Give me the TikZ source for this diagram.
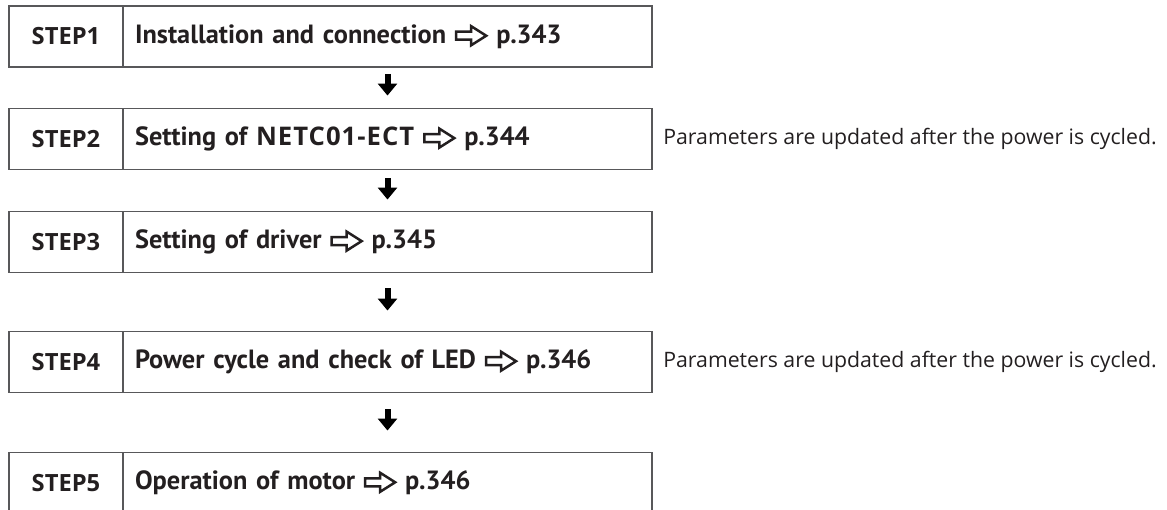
\documentclass[tikz,border=0pt]{standalone}
\usepackage{fontspec}
\setmainfont{PT Sans}
\newfontfamily\labelfont{Open Sans}
\newfontfamily\modelfont[LetterSpace=4]{Open Sans}
\usetikzlibrary{arrows.meta,positioning}
\definecolor{inkblack}{RGB}{35,31,32}
\definecolor{framegray}{RGB}{88,88,90}
\newcommand{\goto}[1]{\tikz[x=1cm, y=1cm, baseline=-0.15cm]\draw[inkblack, line width=0.05cm, line join=miter]
  (0,0.08) -- (0.30,0.08) -- (0.30,0.19) -- (0.60,0) -- (0.30,-0.19) -- (0.30,-0.08) -- (0,-0.08) -- cycle;~p.#1}

\begin{document}
\begin{tikzpicture}[x=0.02cm, y=0.02cm,
  font=\bfseries\fontsize{15}{17}\selectfont, text=inkblack,
  stepcell/.style={draw=framegray, line width=1.1pt, minimum width=2.28cm, minimum height=1.22cm, inner sep=0pt,
    font=\labelfont\bfseries\fontsize{13.5}{16}\selectfont},
  textcell/.style={draw=framegray, line width=1.1pt, minimum width=10.58cm, minimum height=1.22cm, text width=10.10cm, align=left, inner xsep=0.24cm, inner ysep=0pt},
  note/.style={font=\labelfont\mdseries\fontsize{12.1}{14}\selectfont, anchor=west, inner sep=0pt},
  flow/.style={line width=0.12cm, -{Triangle[width=0.38cm,length=0.24cm]}},
]
\clip (0,0) rectangle (1167,-510);
% steps
\node[stepcell] (s1) at (66,-36.5) {STEP1};
\node[textcell] (t1) at (387.5,-36.5) {Installation and connection \goto{343}};
\node[stepcell] (s2) at (66,-139) {STEP2};
\node[textcell] (t2) at (387.5,-139) {Setting of {\modelfont\fontsize{14.6}{17}\selectfont NETC01-ECT} \goto{344}};
\node[stepcell] (s3) at (66,-242) {STEP3};
\node[textcell] (t3) at (387.5,-242) {Setting of driver \goto{345}};
\node[stepcell] (s4) at (66,-362) {STEP4};
\node[textcell] (t4) at (387.5,-362) {Power cycle and check of LED \goto{346}};
\node[stepcell] (s5) at (66,-483) {STEP5};
\node[textcell] (t5) at (387.5,-483) {Operation of motor \goto{346}};
% notes
\node[note] (n2) at (663,-139) {Parameters are updated after the power is cycled.};
\node[note] (n4) at (663,-362) {Parameters are updated after the power is cycled.};
% flow
\draw[flow, shorten <=0.12cm, shorten >=0.24cm] (t1) -- (t2);
\draw[flow, shorten <=0.16cm, shorten >=0.22cm] (t2) -- (t3);
\draw[flow, shorten <=0.30cm, shorten >=0.40cm] (t3) -- (t4);
\draw[flow, shorten <=0.32cm, shorten >=0.42cm] (t4) -- (t5);
\end{tikzpicture}
\end{document}
